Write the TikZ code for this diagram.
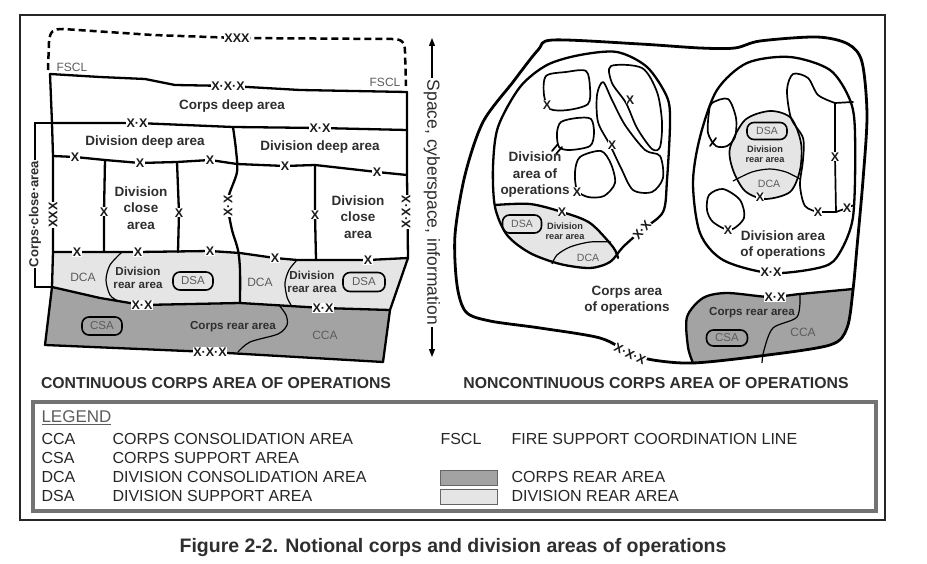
\documentclass[tikz,border=0pt]{standalone}
\usepackage{fontspec}
\setmainfont{Liberation Sans}
\usetikzlibrary{arrows.meta}

\definecolor{corpsfill}{gray}{0.64}
\definecolor{divfill}{gray}{0.90}
\definecolor{inkgray}{gray}{0.18}
\definecolor{softgray}{gray}{0.36}

\begin{document}
\begin{tikzpicture}[x=1pt, y=-1pt,
    bnd/.style={line width=2.3pt, line join=round, line cap=round},
    obnd/.style={line width=2.8pt, line join=round},
    bline/.style={line width=1.7pt, line join=round, line cap=round},
    sline/.style={line width=1.2pt},
    xlbl/.style={fill=white, inner sep=0.5pt, text=black!90, font=\fontsize{12.5}{12.5}\selectfont\bfseries},
    alabel/.style={align=center, text=inkgray, font=\fontsize{13.5}{16.5}\selectfont\bfseries},
    slabel/.style={align=center, text=inkgray, font=\fontsize{11.6}{13.5}\selectfont\bfseries},
    tlabel/.style={align=center, text=inkgray, font=\fontsize{9.2}{10.5}\selectfont\bfseries},
    glabel/.style={text=softgray, font=\fontsize{12}{12}\selectfont},
    blob/.style={draw, line width=1.6pt, rounded corners=7pt, text=softgray, inner sep=0pt, font=\fontsize{11.5}{12}\selectfont},
    lgtext/.style={anchor=west, text=black!85, font=\fontsize{16}{16}\selectfont},
    ptitle/.style={text=inkgray, font=\fontsize{15.8}{16}\selectfont\bfseries},
    swatch/.style={draw=black!60, line width=1pt}
]
\useasboundingbox (0,0) rectangle (927,564);

% Frame
\draw[line width=1.6pt, black!85] (20,15) rectangle (885,520);

% Continuous corps area of operations
\coordinate (fsclL) at (50,74);
\coordinate (fsclR) at (407,92);
\coordinate (deepL) at (52,123);
\coordinate (deepR) at (407,130);
\coordinate (closeL) at (53,156);
\coordinate (closeR) at (407,175);
\coordinate (rearL) at (53,252);
\coordinate (rearR) at (408,258);
\coordinate (crearL) at (52,287);
\coordinate (crearR) at (390,310);
\coordinate (botL) at (45,345);
\coordinate (botR) at (383,362);

\fill[divfill] (rearL) -- (77,252) -- (138,252) -- (210,251) -- (240,253) -- (275,258) -- (297,260)
    -- (368,260) -- (rearR) -- (crearR) -- (323,308) -- (240,303) -- (142,305) -- (100,298) -- (crearL) -- cycle;
\fill[corpsfill] (crearL) -- (100,298) -- (142,305) -- (240,303) -- (323,308) -- (crearR)
    -- (botR) -- (210,352) -- (botL) -- cycle;

\draw[line width=2.5pt, dash pattern=on 7pt off 4pt] (48,70) -- (49,42) .. controls (50,31) and (53,29) .. (63,29)
    -- (153,35) -- (237,38) -- (392,39) .. controls (402,39) and (405,42) .. (405,52) -- (406,86);
\draw[bnd] (fsclL) -- (100,77) -- (145,79) -- (175,85) -- (230,86) -- (300,90) -- (fsclR);
\draw[bnd] (deepL) -- (137,123) -- (233,127) -- (320,128) -- (deepR);
\draw[bnd] (closeL) -- (75,157) -- (105,160) -- (140,163) -- (177,162) -- (210,160) -- (237,164)
    -- (285,166) -- (315,165) -- (377,172) -- (closeR);
\draw[bnd] (rearL) -- (77,252) -- (138,252) -- (210,251) -- (240,253) -- (275,258) -- (297,260)
    -- (368,260) -- (rearR);
\draw[bnd] (crearL) -- (100,298) -- (142,305) -- (240,303) -- (323,308) -- (crearR);
\draw[bnd] (botL) -- (210,352) -- (botR);
\draw[bnd] (fsclL) -- (deepL) -- (closeL) -- (rearL) -- (crearL) -- (botL);
\draw[bnd] (fsclR) -- (deepR) -- (closeR) -- (rearR) -- (crearR) -- (botR);
\draw[bnd] (105,160) -- (104,212) -- (104,252);
\draw[bnd] (177,162) -- (179,213) -- (178,252);
\draw[bnd] (315,165) -- (315,215) -- (316,259);
\draw[bnd] plot[smooth] coordinates {(233,127) (236,150) (237,172) (229,195) (228,208) (232,230) (238,250) (240,270) (240,303)};
\draw[sline] plot[smooth] coordinates {(122,252) (110,265) (106,280) (110,295) (118,301)};
\draw[sline] plot[smooth] coordinates {(297,260) (289,270) (285,283) (287,297) (291,305)};
\draw[sline] plot[smooth] coordinates {(279,305) (286,315) (287,325) (278,334) (250,342) (238,352)};

% Corps close area bracket
\draw[line width=1.3pt] (deepL) -- (35,123) -- (35,287) -- (crearL);
\node[fill=white, inner sep=1pt, rotate=90, text=inkgray, font=\fontsize{13}{13}\selectfont\bfseries] (closebr) at (35,214) {Corps·close·area};

% area labels
\node[glabel] (fsclA) at (72,67) {FSCL};
\node[glabel] (fsclB) at (385,82) {FSCL};
\node[alabel] (deep) at (232,106) {Corps deep area};
\node[alabel] (ddeepA) at (145,142) {Division deep area};
\node[alabel] (ddeepB) at (320,147) {Division deep area};
\node[alabel] (dcloseA) at (141,208) {Division\\close\\area};
\node[alabel] (dcloseB) at (358,217) {Division\\close\\area};
\node[glabel] (dcaA) at (83,277) {DCA};
\node[glabel] (dcaB) at (260,282) {DCA};
\node[slabel] (drearA) at (138,278) {Division\\rear area};
\node[slabel] (drearB) at (312,282) {Division\\rear area};
\node[blob, minimum width=40pt, minimum height=18pt] (dsaA) at (193,281) {DSA};
\node[blob, minimum width=42pt, minimum height=19pt] (dsaB) at (364,282) {DSA};
\node[blob, minimum width=40pt, minimum height=18pt] (csaA) at (102,326) {CSA};
\node[slabel] (crearA) at (233,327) {Corps rear area};
\node[glabel] (ccaA) at (325,335) {CCA};

% boundary symbols
\node[xlbl] (b1) at (237,38) {XXX};
\node[xlbl] (b2) at (228,86) {X·X·X};
\node[xlbl] (b3) at (137,123) {X·X};
\node[xlbl] (b4) at (320,128) {X·X};
\foreach \px/\py in {75/157, 140/163, 210/160, 285/166, 377/172, 77/252, 138/252, 210/251, 275/258, 368/260}
    \node[xlbl] at (\px,\py) {X};
\foreach \px/\py in {104/212, 179/213, 315/215}
    \node[xlbl, inner sep=0.2pt] at (\px,\py) {X};
\node[xlbl, rotate=90] (b5) at (53,215) {XXX};
\node[xlbl, rotate=90] (b6) at (406,212) {X·X·X};
\node[xlbl, rotate=90] (b7) at (228,206) {X·X};
\node[xlbl] (b8) at (142,305) {X·X};
\node[xlbl] (b9) at (323,308) {X·X};
\node[xlbl] (b10) at (210,352) {X·X·X};

% Space, cyberspace, information
\coordinate (spTop) at (432,38);
\coordinate (spBot) at (432,357);
\draw[{Triangle[length=8pt,width=6pt]}-{Triangle[length=8pt,width=6pt]}, line width=1.3pt] (spTop) -- node[pos=0.515, fill=white, inner sep=2pt, rotate=-90, text=inkgray, font=\fontsize{17.5}{18}\selectfont] (space) {Space, cyberspace, information} (spBot);

% Noncontinuous corps area of operations
\path[save path=\corpsaop] plot[smooth cycle, tension=0.5] coordinates {(553,40) (640,44) (700,48) (735,48) (760,41) (817,37) (848,44) (862,62) (867,115) (863,180) (857,247) (853,290) (847,328) (830,345) (760,356) (693,363) (653,360) (630,353) (600,338) (540,328) (490,321) (466,312) (457,285) (455,235) (465,175) (483,122) (513,82) (538,50)};
\path[save path=\divaopA] plot[smooth cycle] coordinates {(580,55) (617,52) (647,67) (667,97) (670,123) (667,180) (663,212) (642,230) (623,247) (610,262) (590,268) (560,264) (530,253) (507,235) (495,207) (493,167) (498,127) (520,87) (547,65)};
\path[save path=\divaopB] plot[smooth cycle] coordinates {(790,57) (830,70) (850,100) (855,133) (853,217) (837,257) (818,268) (770,273) (723,260) (700,233) (693,183) (700,137) (717,90) (747,63)};

\begin{scope}
\clip[use path=\corpsaop];
\fill[corpsfill] plot[smooth] coordinates {(693,366) (688,347) (687,317) (703,298) (727,293) (770,297) (800,294) (856,289) (880,289)} -- (880,390) -- (693,390) -- cycle;
\end{scope}
\begin{scope}
\clip[use path=\divaopA];
\fill[divfill] plot[smooth] coordinates {(480,205) (495,205) (530,204) (562,212) (590,223) (613,247) (630,268)} -- (630,290) -- (480,290) -- cycle;
\end{scope}
\draw[bline, fill=divfill] plot[smooth cycle] coordinates {(770,111) (791,118) (801,143) (800,170) (790,192) (765,199) (745,191) (733,170) (730,148) (745,120)};

\draw[bnd] plot[smooth] coordinates {(693,363) (688,347) (687,317) (703,298) (727,293) (770,297) (800,294) (853,289)};
\draw[sline] plot[smooth] coordinates {(800,295) (797,317) (773,328) (764,350) (762,363)};
\draw[bnd] plot[smooth] coordinates {(495,205) (530,204) (562,212) (590,223) (613,247) (618,258)};
\draw[sline] plot[smooth] coordinates {(611,242) (590,242) (570,247) (557,255) (552,264)};
\draw[sline] plot[smooth] coordinates {(733,181) (752,172) (770,169) (786,172) (800,179)};

\draw[obnd, use path=\corpsaop];
\draw[bnd, use path=\divaopA];
\draw[bnd, use path=\divaopB];

% brigade areas, left division
\draw[bline] plot[smooth cycle] coordinates {(546,76) (566,72) (586,71) (590,88) (588,104) (568,110) (550,109) (544,95)};
\draw[bline] plot[smooth cycle] coordinates {(561,122) (577,118) (591,119) (594,133) (590,146) (570,150) (559,147) (557,133)};
\draw[bline] plot[smooth cycle] coordinates {(580,157) (601,151) (611,164) (615,183) (604,196) (588,197) (577,190) (575,172)};
\draw[bline] plot[smooth cycle] coordinates {(611,66) (642,68) (657,92) (662,122) (660,147) (652,149) (637,128) (626,103) (612,83)};
\draw[bline] plot[smooth cycle] coordinates {(603,82) (612,100) (625,125) (645,150) (660,156) (663,178) (652,192) (633,190) (621,168) (610,145) (598,122) (597,95)};
\draw[bline] (552,151) -- (558,144);
\draw[bline] (556,154) -- (562,147);

% brigade areas, right division
\draw[bline] plot[smooth cycle] coordinates {(712,103) (728,99) (736,118) (735,137) (727,146) (716,146) (708,133) (709,112)};
\draw[bline] plot[smooth cycle] coordinates {(709,195) (723,189) (740,200) (744,218) (730,230) (713,222) (707,210)};
\draw[bline] plot[smooth] coordinates {(818,212) (805,206) (800,185) (803,160) (803,138) (791,118) (787,90) (793,74) (808,78) (818,95) (835,103)};
\draw[bline] (835,103) -- (853,102);
\draw[bline] (835,103) -- (835,157) -- (836,212);
\draw[bline] (818,212) -- (836,212) -- (847,208) -- (854,205);
\draw[bline] (710,146) -- (716,138);

% labels, noncontinuous
\node[alabel, align=center] (daoA) at (535,175) {Division\\area of\\operations};
\node[tlabel] (drearC) at (565,231) {Division\\rear area};
\node[blob, minimum width=39pt, minimum height=18pt, font=\fontsize{10.5}{11}\selectfont] (dsaC) at (522,224) {DSA};
\node[glabel, font=\fontsize{10.5}{11}\selectfont] (dcaC) at (588,258) {DCA};
\node[blob, minimum width=40pt, minimum height=17pt, font=\fontsize{10.5}{11}\selectfont] (dsaD) at (767,131) {DSA};
\node[tlabel] (drearD) at (765,154) {Division\\rear area};
\node[glabel, font=\fontsize{10.5}{11}\selectfont] (dcaD) at (769,184) {DCA};
\node[alabel] (daoB) at (783,245) {Division area\\of operations};
\node[alabel] (caop) at (627,300) {Corps area\\of operations};
\node[slabel] (crearB) at (752,313) {Corps rear area};
\node[blob, minimum width=41pt, minimum height=16pt] (csaB) at (727,338) {CSA};
\node[glabel] (ccaB) at (803,332) {CCA};

\foreach \px/\py in {547/105, 577/192, 630/100, 612/145, 562/212, 760/197, 728/230, 818/212, 835/157, 847/208}
    \node[xlbl, inner sep=0.2pt] at (\px,\py) {X};
\node[xlbl, rotate=50] (b11) at (642,230) {X·X};
\node[xlbl] (b12) at (771,272) {X·X};
\node[xlbl] (b13) at (775,297) {X·X};
\node[xlbl, rotate=-25] (b14) at (630,354) {X·X·X};

% panel titles
\node[ptitle] (titleA) at (216,383) {CONTINUOUS CORPS AREA OF OPERATIONS};
\node[ptitle] (titleB) at (656,383) {NONCONTINUOUS CORPS AREA OF OPERATIONS};

% Legend
\draw[black!55, line width=3.2pt] (33,402) rectangle (876,511);
\node[anchor=west, text=softgray, font=\fontsize{17}{17}\selectfont] (legend) at (38,418) {\underline{LEGEND}};
\node[lgtext] (cca) at (38,439) {CCA};
\node[lgtext] (csa) at (38,458) {CSA};
\node[lgtext] (dca) at (38,477) {DCA};
\node[lgtext] (dsa) at (38,496) {DSA};
\node[lgtext] (ccat) at (109,439) {CORPS CONSOLIDATION AREA};
\node[lgtext] (csat) at (109,458) {CORPS SUPPORT AREA};
\node[lgtext] (dcat) at (109,477) {DIVISION CONSOLIDATION AREA};
\node[lgtext] (dsat) at (109,496) {DIVISION SUPPORT AREA};
\node[lgtext] (fscl) at (437,439) {FSCL};
\node[lgtext] (fsclt) at (508,439) {FIRE SUPPORT COORDINATION LINE};
\draw[swatch, fill=corpsfill] (440,470) rectangle (497,485);
\draw[swatch, fill=divfill] (440,489) rectangle (497,504);
\node[lgtext] (crat) at (508,477) {CORPS REAR AREA};
\node[lgtext] (drat) at (508,496) {DIVISION REAR AREA};

% Caption
\node[text=inkgray, font=\fontsize{19.5}{20}\selectfont\bfseries] (caption) at (453,547) {Figure 2-2. Notional corps and division areas of operations};
\end{tikzpicture}
\end{document}
